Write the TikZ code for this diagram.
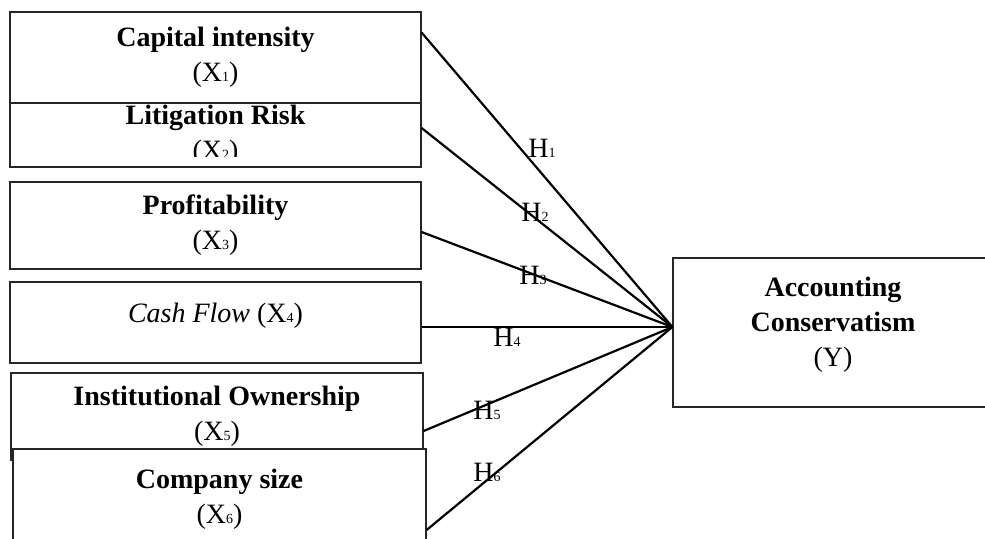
\documentclass[tikz,border=0pt]{standalone}
\usepackage{fontspec}
\setmainfont{Liberation Serif}

\newcommand{\subno}[1]{{\fontsize{7}{7}\selectfont #1}}

\begin{document}
\begin{tikzpicture}[x=0.5pt, y=-0.5pt,
        every node/.style={font=\fontsize{14}{17.5}\selectfont},
        varbox/.style={rectangle, draw=black!85, line width=0.6pt,
            fill=white, align=center, inner sep=0pt},
        link/.style={line width=1.1pt}]
    \useasboundingbox (0,0) rectangle (985,538);
    \clip (0,0) rectangle (985,538);

    % independent variables
    \node[varbox, minimum width=205.5pt, minimum height=45.5pt] (cap) at (215.5,57.5)
        {\textbf{Capital intensity}\\(X\subno{1})};
    \node[varbox, minimum width=205.5pt, minimum height=32pt] (litig) at (215.5,135)
        {\textbf{Litigation Risk}\\(X\subno{2})};
    \fill[white] (11,157) rectangle (420,166);
    \node[varbox, minimum width=205.5pt, minimum height=43.5pt] (profit) at (215.5,225.5)
        {\textbf{Profitability}\\(X\subno{3})};
    \node[varbox, minimum width=205.5pt, minimum height=40.5pt, text depth=10pt] (cash) at (215.5,322.5)
        {\textit{Cash Flow} (X\subno{4})};
    \node[varbox, minimum width=206pt, minimum height=43.5pt] (inst) at (217,416.5)
        {\textbf{Institutional Ownership}\\(X\subno{5})};
    \node[varbox, minimum width=206.5pt, minimum height=50pt] (size) at (219.5,499)
        {\textbf{Company size}\\(X\subno{6})};

    % dependent variable
    \node[varbox, minimum width=160pt, minimum height=74.5pt, text depth=10.5pt] (acc) at (833,332.5)
        {\textbf{Accounting}\\\textbf{Conservatism}\\(Y)};
    \coordinate (hub) at ([yshift=2.75pt]acc.west);

    % hypotheses
    \draw[link] ([yshift=12.5pt]cap.east) -- (hub);
    \draw[link] ([yshift=3.5pt]litig.east) -- (hub);
    \draw[link] ([yshift=-3.25pt]profit.east) -- (hub);
    \draw[link] ([yshift=-2.25pt]cash.east) -- (hub);
    \draw[link] ([yshift=-7.25pt]inst.east) -- (hub);
    \draw[link] ([yshift=-15.5pt]size.east) -- (hub);

    \node (h1) at (542,148) {H\subno{1}};
    \node (h2) at (535,212) {H\subno{2}};
    \node (h3) at (533,275) {H\subno{3}};
    \node (h4) at (507,337) {H\subno{4}};
    \node (h5) at (487,410) {H\subno{5}};
    \node (h6) at (487,472) {H\subno{6}};
\end{tikzpicture}
\end{document}
